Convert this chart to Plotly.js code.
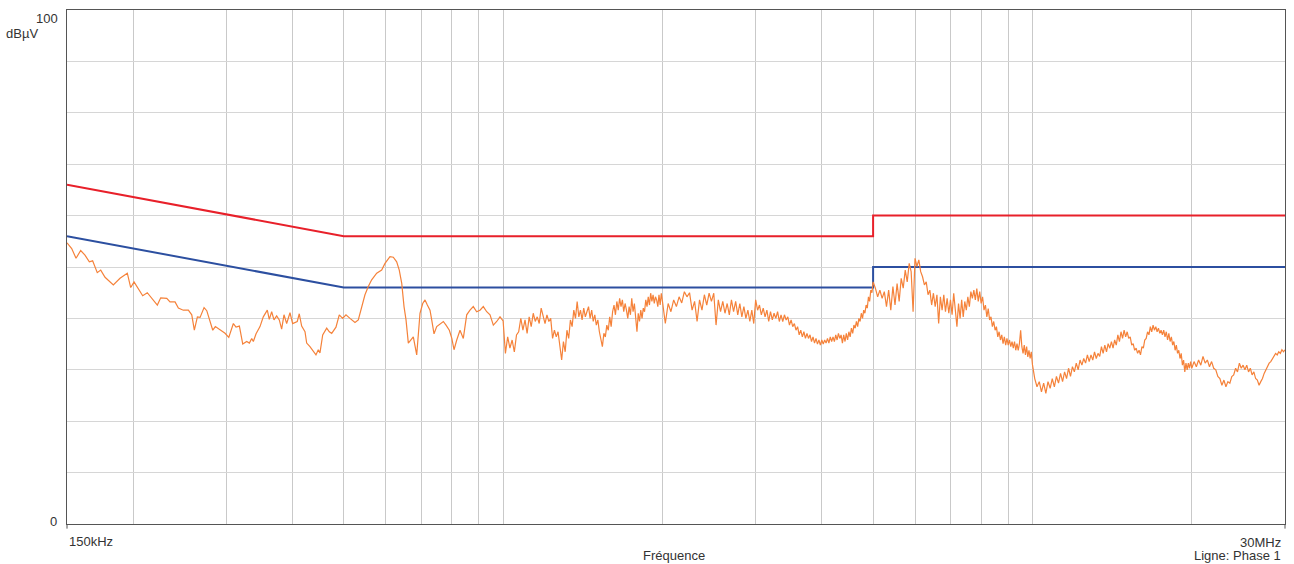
<!DOCTYPE html>
<html>
<head>
<meta charset="utf-8">
<script src="https://cdn.plot.ly/plotly-3.0.1.min.js"></script>
<style>
  html, body { margin: 0; padding: 0; background: #ffffff; }
  #chart { width: 1294px; height: 564px; }
</style>
</head>
<body>
<div id="chart"></div>
<script>
// ---- Limit lines (kHz, dBµV) ----
const qpFreq = [150, 500, 5000, 5000, 30000];
const qpLevel = [66, 56, 56, 60, 60];
const avFreq = [150, 500, 5000, 5000, 30000];
const avLevel = [56, 46, 46, 50, 50];

// ---- Measured trace, read from the picture (kHz, dBµV) ----
// 150 kHz - 500 kHz
const seg1Freq = [150,153.1,156.0,159.2,162.2,165.3,167.7,171.1,173.7,177.0,183.5,188.9,195.0,197.9,200.8,208.5,212.7,222.2,225.5,231.5,234.8,240.0,243.5,248.8,254.3,258.1,261.0,264.5,267.6,272.3,275.5,278.6,282.8,286.0,291.9,298.3,303.2,309.3,312.9,317.5,322.2,327.8,331.6,335.0,337.4,341.4,347.3,352.3,358.5,361.6,365.4,369.1,373.4,377.7,381.6,385.5,390.0,395.7,400.3,408.4,412.0,416.3,422.4,425.5,431.6,437.9,443.0,447.5,450.8,456.2,464.2,469.5,474.4,483.3,490.3,497.6];
const seg1Level = [54.7,53.6,51.7,53.2,52.3,51.0,51.2,48.9,49.4,48.0,46.5,47.8,48.8,46.0,47.1,44.4,45.0,42.6,44.0,43.9,43.2,43.2,42.0,41.6,41.6,40.7,37.7,40.3,40.2,42.1,41.5,39.7,37.7,38.4,37.7,37.1,36.3,39.0,38.3,38.5,35.0,35.5,35.2,36.1,35.5,37.0,38.4,40.3,41.6,39.8,41.3,39.7,40.5,39.7,37.9,40.7,39.0,41.1,39.0,39.4,40.9,38.5,37.4,35.2,34.5,33.5,32.9,33.9,33.3,36.8,38.1,37.4,37.1,38.3,40.7,40.0];

// 500 kHz - 1 MHz
const seg2Freq = [504.8,513.7,525.0,532.6,540.5,548.3,556.3,564.5,577.0,589.6,598.2,611.3,620.2,629.4,636.5,643.4,649.8,655.5,662.1,669.1,676.6,686.7,691.5,696.6,704.9,712.0,719.2,727.6,733.0,740.4,749.1,760.0,771.0,780.1,791.4,800,807.7,817.3,829.0,841.0,853.5,865.8,878.3,891.4,904.3,917.4,931.1,944.6,958.3,972.5,986.6];
const seg2Level = [40.7,40.0,39.2,39.7,42.0,44.6,46.2,47.5,48.8,49.4,50.7,52.0,51.9,51.0,49.4,46.8,42.3,39.7,35.2,35.8,36.4,32.9,36.4,41.0,42.9,43.6,42.6,41.6,39.7,37.0,38.4,39.0,39.4,38.7,37.7,36.1,33.9,35.8,37.7,36.1,40.7,41.6,42.3,41.3,41.6,42.3,41.3,40.7,38.7,39.4,40.3];

// 1 MHz - 2 MHz
const seg3Freq = [1000,1010,1020,1030,1040,1050,1060,1070,1080,1090,1100,1110,1120,1130,1140,1150,1160,1170,1180,1190,1200,1210,1220,1230,1240,1250,1260,1270,1280,1290,1300,1310,1320,1330,1340,1350,1360,1370,1380,1390,1400,1410,1420,1430,1440,1450,1460,1470,1480,1490,1500,1510,1520,1530,1540,1550,1560,1570,1580,1590,1600,1610,1620,1630,1640,1650,1660,1670,1680,1690,1700,1710,1720,1730,1740,1750,1760,1770,1780,1790,1800,1810,1820,1830,1840,1850,1860,1870,1880,1890,1900,1910,1920,1930,1940,1950,1960,1970,1980,1990,2000];
const seg3Level = [39.5,33.2,36.4,34.2,35.8,33.5,36.8,37.4,40.0,37.7,39.7,37.1,40.3,38.4,41.0,39.4,40.3,39.0,42.0,40.7,39.0,40.7,39.4,40.0,36.1,37.7,36.4,37.4,34.8,31.9,35.5,33.5,37.7,36.1,39.7,38.4,41.6,40.0,43.3,40.3,41.6,39.7,42.0,40.3,41.3,42.3,40.0,41.6,39.4,40.7,38.7,39.7,37.4,36.1,34.5,37.1,36.4,38.7,37.7,40.3,38.4,41.3,42.6,40.7,43.3,41.6,43.9,42.3,43.6,41.3,42.9,41.6,40.0,42.3,40.7,43.9,41.3,42.9,39.4,37.4,41.0,39.4,41.6,40.0,42.0,41.3,43.6,42.3,44.2,42.6,44.9,43.3,44.6,42.9,44.2,43.6,42.3,44.6,42.6,44.9,43.3];

// 2 MHz - 5 MHz
const seg4Freq = [2025,2050,2075,2100,2125,2150,2175,2200,2225,2250,2275,2300,2325,2350,2375,2400,2425,2450,2475,2500,2525,2550,2575,2600,2625,2650,2675,2700,2725,2750,2775,2800,2825,2850,2875,2900,2925,2950,2975,3000,3025,3050,3075,3100,3125,3150,3175,3200,3225,3250,3275,3300,3325,3350,3375,3400,3425,3450,3475,3500,3525,3550,3575,3600,3625,3650,3675,3700,3725,3750,3775,3800,3825,3850,3875,3900,3925,3950,3975,4000,4025,4050,4075,4100,4125,4150,4175,4200,4225,4250,4275,4300,4325,4350,4375,4400,4425,4450,4475,4500,4525,4550,4575,4600,4625,4650,4675,4700,4725,4750,4775,4800,4825,4850,4875,4900,4925,4950,4975,5000];
const seg4Level = [39.0,42.9,41.3,43.6,42.3,44.2,43.0,45.2,44.2,45.0,41.6,43.3,39.4,43.6,41.6,44.6,42.6,44.9,43.3,44.9,38.7,43.6,41.3,43.3,41.0,42.9,40.7,43.6,41.3,43.3,40.7,42.9,40.3,42.3,40.0,41.6,39.4,41.6,39.0,43.6,41.6,42.6,40.7,42.0,40.3,41.6,39.4,41.3,39.7,41.0,40.0,41.3,39.4,40.7,39.4,40.7,39.7,40.3,38.7,39.7,38.4,39.0,37.7,38.4,36.8,37.7,36.4,37.4,36.1,37.1,36.1,36.8,35.5,36.4,35.2,36.1,35.0,35.8,34.8,35.8,35.0,35.8,35.2,36.1,35.2,36.4,35.5,36.4,35.5,36.8,35.8,37.1,36.1,36.8,35.2,36.8,35.5,37.1,35.8,37.4,36.4,38.1,37.1,38.7,38.1,39.4,38.4,40.0,39.4,41.0,40.0,41.6,41.0,42.6,42.0,44.2,43.3,45.5,45.0,47.1];

// 5 MHz - 10 MHz
const seg5Freq = [5050,5100,5150,5200,5250,5300,5350,5400,5450,5500,5550,5600,5650,5700,5750,5800,5850,5900,5950,6000,6050,6100,6150,6200,6250,6300,6350,6400,6450,6500,6550,6600,6650,6700,6750,6800,6850,6900,6950,7000,7050,7100,7150,7200,7250,7300,7350,7400,7450,7500,7550,7600,7650,7700,7750,7800,7850,7900,7950,8000,8050,8100,8150,8200,8250,8300,8350,8400,8450,8500,8550,8600,8650,8700,8750,8800,8850,8900,8950,9000,9050,9100,9150,9200,9250,9300,9350,9400,9450,9500,9550,9600,9650,9700,9750,9800,9850,9900,9950,10000];
const seg5Level = [45.9,44.2,45.5,43.9,45.2,42.3,45.5,41.6,46.2,42.6,46.8,43.3,47.8,45.9,49.4,47.1,50.7,49.1,41.3,51.7,50.1,51.4,49.1,48.1,46.5,47.1,44.6,45.5,42.6,44.9,42.3,44.6,39.0,44.2,41.6,44.6,41.3,43.9,41.0,43.6,40.7,44.9,41.3,38.4,42.9,40.0,43.6,40.3,43.3,41.6,44.2,42.3,45.2,43.9,45.5,43.6,45.8,43.3,45.2,42.9,44.2,41.6,42.6,40.3,41.9,39.7,40.3,38.4,39.4,37.7,38.4,36.4,37.4,35.8,36.8,35.1,36.4,34.8,36.1,34.8,35.8,34.5,35.5,34.2,35.5,33.8,35.1,33.8,35.1,37.7,34.5,33.2,34.8,32.9,34.5,32.5,33.8,32.2,33.5,31.0];

// 10 MHz - 20 MHz
const seg6Freq = [10100,10200,10300,10400,10500,10600,10700,10800,10900,11000,11100,11200,11300,11400,11500,11600,11700,11800,11900,12000,12100,12200,12300,12400,12500,12600,12700,12800,12900,13000,13100,13200,13300,13400,13500,13600,13700,13800,13900,14000,14100,14200,14300,14400,14500,14600,14700,14800,14900,15000,15100,15200,15300,15400,15500,15600,15700,15800,15900,16000,16100,16200,16300,16400,16500,16600,16700,16800,16900,17000,17100,17200,17300,17400,17500,17600,17700,17800,17900,18000,18100,18200,18300,18400,18500,18600,18700,18800,18900,19000,19100,19200,19300,19400,19500,19600,19700,19800,19900,20000];
const seg6Level = [28.3,26.7,27.7,25.7,27.4,25.4,27.7,26.4,28.3,26.7,28.7,27.4,29.3,27.7,29.6,28.3,30.3,28.7,30.6,29.6,31.3,30.0,31.9,30.9,32.2,31.3,32.9,31.6,32.9,31.9,33.5,32.2,33.2,32.6,34.5,33.2,34.8,33.5,35.1,34.2,35.5,34.2,35.8,34.8,36.8,35.5,37.4,36.1,37.7,36.4,37.4,36.1,36.4,34.8,35.1,33.8,34.2,33.2,33.8,32.9,34.5,34.2,35.8,36.1,37.4,36.8,38.4,37.4,38.7,37.7,38.4,37.4,38.1,37.1,37.7,36.8,37.7,36.4,37.4,35.8,37.1,35.5,36.4,34.8,35.5,33.8,34.8,33.2,33.8,32.2,33.2,30.9,31.9,29.6,31.3,30.0,31.3,30.3,31.6,30.3];

// 20 MHz - 30 MHz
const seg7Freq = [20200,20400,20600,20800,21000,21200,21400,21600,21800,22000,22200,22400,22600,22800,23000,23200,23400,23600,23800,24000,24200,24400,24600,24800,25000,25200,25400,25600,25800,26000,26200,26400,26600,26800,27000,27200,27400,27600,27800,28000,28200,28400,28600,28800,29000,29200,29400,29600,29800,30000];
const seg7Level = [31.6,30.6,31.9,30.9,32.6,31.3,31.9,30.6,31.6,30.3,30.0,28.7,28.3,27.0,28.0,26.7,27.7,27.4,28.7,29.0,30.3,29.6,31.3,30.3,30.9,30.0,30.9,29.6,30.3,29.0,29.6,28.3,28.0,27.0,27.7,28.3,29.3,30.0,30.6,31.3,31.6,32.2,32.6,33.2,32.9,33.5,33.2,33.9,33.5,33.9];

// ---- Axis ticks / labels ----
const gridFreqs = [200,300,400,500,600,700,800,900,1000,2000,3000,4000,5000,6000,7000,8000,9000,10000,20000];
const gridLevels = [10,20,30,40,50,60,70,80,90];
const xStartLabel = "150kHz";
const xEndLabel = "30MHz";
const yTopLabel = "100";
const yBottomLabel = "0";
const yUnit = "dBµV";
const xTitle = "Fréquence";
const lineLabel = "Ligne: Phase 1";

const traceFreq = seg1Freq.concat(seg2Freq, seg3Freq, seg4Freq, seg5Freq, seg6Freq, seg7Freq);
const traceLevel = seg1Level.concat(seg2Level, seg3Level, seg4Level, seg5Level, seg6Level, seg7Level);

const FONT = "Liberation Sans, Arial, Helvetica, sans-serif";
const TXT = { family: FONT, size: 13, color: "#333333" };

const data = [
  { x: qpFreq, y: qpLevel, type: "scatter", mode: "lines",
    line: { color: "#e8202a", width: 2 }, hoverinfo: "skip", showlegend: false },
  { x: avFreq, y: avLevel, type: "scatter", mode: "lines",
    line: { color: "#2c4fa0", width: 2 }, hoverinfo: "skip", showlegend: false },
  { x: traceFreq, y: traceLevel, type: "scatter", mode: "lines",
    line: { color: "#f5823a", width: 1.2 }, hoverinfo: "skip", showlegend: false }
];

const layout = {
  width: 1294, height: 564,
  margin: { l: 67, r: 9, t: 10, b: 40, pad: 0 },
  paper_bgcolor: "#ffffff", plot_bgcolor: "#ffffff",
  showlegend: false,
  font: TXT,
  xaxis: {
    type: "log",
    range: [Math.log10(150), Math.log10(30000)],
    tickmode: "array", tickvals: gridFreqs, showticklabels: false, ticks: "",
    showgrid: true, gridcolor: "#c9c9c9", gridwidth: 1,
    showline: true, linecolor: "#555555", linewidth: 1, mirror: true,
    zeroline: false, fixedrange: true
  },
  yaxis: {
    range: [0, 100],
    tickmode: "array", tickvals: gridLevels, showticklabels: false, ticks: "",
    showgrid: true, gridcolor: "#d6d6d6", gridwidth: 1,
    showline: true, linecolor: "#555555", linewidth: 1, mirror: true,
    zeroline: false, fixedrange: true
  },
  shapes: [
    { type: "line", xref: "paper", yref: "paper", x0: 0, x1: 0, y0: 0, y1: -0.009,
      line: { color: "#555555", width: 1 } },
    { type: "line", xref: "paper", yref: "paper", x0: 1, x1: 1, y0: 0, y1: -0.009,
      line: { color: "#555555", width: 1 } }
  ],
  annotations: [
    { text: yTopLabel, xref: "paper", yref: "paper", x: 0, y: 1, xanchor: "right", yanchor: "middle",
      xshift: -7, yshift: -8, showarrow: false, font: TXT },
    { text: yUnit, xref: "paper", yref: "paper", x: 0, y: 1, xanchor: "right", yanchor: "middle",
      xshift: -27, yshift: -23, showarrow: false, font: TXT },
    { text: yBottomLabel, xref: "paper", yref: "paper", x: 0, y: 0, xanchor: "right", yanchor: "middle",
      xshift: -8, yshift: 3, showarrow: false, font: TXT },
    { text: xStartLabel, xref: "paper", yref: "paper", x: 0, y: 0, xanchor: "left", yanchor: "middle",
      xshift: 0, yshift: -17, showarrow: false, font: TXT },
    { text: xEndLabel, xref: "paper", yref: "paper", x: 1, y: 0, xanchor: "right", yanchor: "middle",
      xshift: -2, yshift: -18, showarrow: false, font: TXT },
    { text: xTitle, xref: "paper", yref: "paper", x: 0.498, y: 0, xanchor: "center", yanchor: "middle",
      yshift: -31, showarrow: false, font: TXT },
    { text: lineLabel, xref: "paper", yref: "paper", x: 1, y: 0, xanchor: "right", yanchor: "middle",
      xshift: -2, yshift: -31, showarrow: false, font: TXT }
  ]
};

Plotly.newPlot("chart", data, layout, { staticPlot: true, displayModeBar: false });
</script>
</body>
</html>
